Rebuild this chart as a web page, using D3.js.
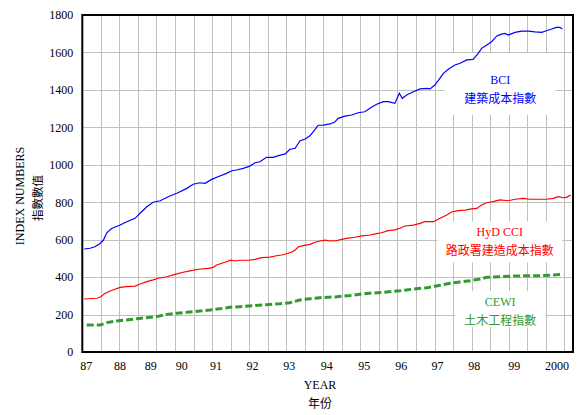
<!DOCTYPE html>
<html><head><meta charset="utf-8">
<script src="https://cdn.jsdelivr.net/npm/d3@7"></script>
<style>
html,body{margin:0;padding:0;background:#fff;}
svg{display:block;}
text{font-family:'Liberation Serif','Times New Roman','Noto Sans CJK TC',serif;}
</style></head>
<body><svg id="chart" width="586" height="415"></svg>
<script>
// ---- data (year, index value) ----
const bciData = [
[1987.05,550],[1987.21,554],[1987.34,562],[1987.48,580],[1987.57,598],[1987.66,637],[1987.79,660],
[1988.02,678],[1988.20,696],[1988.42,714],[1988.60,749],[1988.74,776],[1988.91,800],[1989.10,808],
[1989.36,833],[1989.55,848],[1989.82,874],[1989.99,896],[1990.17,904],[1990.31,901],[1990.49,922],
[1990.71,940],[1990.89,954],[1991.03,968],[1991.16,972],[1991.34,981],[1991.52,993],[1991.66,1011],
[1991.79,1016],[1991.97,1040],[1992.15,1040],[1992.29,1049],[1992.47,1058],[1992.60,1083],[1992.74,1088],
[1992.87,1127],[1993.01,1138],[1993.14,1155],[1993.28,1189],[1993.36,1211],[1993.50,1212],[1993.68,1218],
[1993.81,1228],[1993.90,1248],[1994.08,1260],[1994.27,1266],[1994.44,1278],[1994.62,1283],[1994.80,1307],
[1994.94,1323],[1995.12,1337],[1995.25,1337],[1995.43,1328],[1995.55,1382],[1995.63,1355],[1995.75,1373],
[1995.93,1390],[1996.11,1405],[1996.29,1408],[1996.38,1405],[1996.51,1426],[1996.60,1449],[1996.74,1488],
[1996.87,1510],[1997.05,1533],[1997.19,1542],[1997.37,1560],[1997.54,1563],[1997.68,1595],[1997.77,1622],
[1997.91,1640],[1998.04,1657],[1998.18,1688],[1998.31,1698],[1998.40,1702],[1998.49,1693],[1998.67,1707],
[1998.85,1714],[1999.03,1714],[1999.21,1710],[1999.39,1707],[1999.52,1716],[1999.66,1725],[1999.79,1734],
[1999.88,1734],[1999.95,1725]
];
const hydData = [
[1987.05,283],[1987.39,287],[1987.50,295],[1987.61,313],[1987.75,326],[1987.88,335],[1988.02,345],
[1988.20,349],[1988.42,352],[1988.56,363],[1988.74,376],[1988.91,385],[1989.05,394],[1989.28,402],
[1989.50,415],[1989.72,426],[1989.90,433],[1990.13,442],[1990.40,447],[1990.53,452],[1990.62,465],
[1990.76,474],[1990.89,482],[1991.00,491],[1991.12,486],[1991.25,490],[1991.48,490],[1991.66,495],
[1991.84,504],[1992.06,507],[1992.24,514],[1992.38,518],[1992.51,525],[1992.65,534],[1992.74,545],
[1992.83,562],[1992.96,568],[1993.14,575],[1993.28,586],[1993.41,593],[1993.55,597],[1993.68,593],
[1993.86,595],[1994.00,602],[1994.13,607],[1994.35,613],[1994.54,620],[1994.76,625],[1994.94,632],
[1995.07,637],[1995.25,648],[1995.43,652],[1995.57,661],[1995.70,673],[1995.93,678],[1996.11,687],
[1996.24,696],[1996.47,696],[1996.65,714],[1996.83,732],[1996.96,748],[1997.14,755],[1997.32,758],
[1997.50,764],[1997.64,767],[1997.77,785],[1997.91,797],[1998.08,803],[1998.26,812],[1998.49,808],
[1998.67,816],[1998.89,821],[1999.07,816],[1999.52,816],[1999.70,821],[1999.84,830],[1999.97,824],
[2000.06,826],[2000.17,839]
];
const cewiData = [
[1987.12,144],[1987.48,144],[1987.66,157],[1987.93,166],[1988.20,171],[1988.47,178],[1988.74,183],
[1989.01,189],[1989.28,201],[1989.55,207],[1989.82,212],[1990.17,219],[1990.44,224],[1990.71,231],
[1990.98,239],[1991.25,242],[1991.61,247],[1991.97,253],[1992.33,258],[1992.60,263],[1992.87,278],
[1993.14,285],[1993.41,290],[1993.86,295],[1994.22,302],[1994.67,313],[1995.12,319],[1995.57,327],
[1995.93,336],[1996.29,343],[1996.65,356],[1996.92,367],[1997.19,374],[1997.46,381],[1997.73,390],
[1997.91,399],[1998.26,402],[1998.62,406],[1998.98,407],[1999.34,407],[1999.70,411],[1999.97,415]
];
const xTickLabels = ['87','88','89','90','91','92','93','94','95','96','97','98','99','2000'];
const xTickAt = [1987.09,1988.0,1988.83,1989.67,1990.59,1991.58,1992.57,1993.58,1994.59,1995.59,1996.57,1997.56,1998.64,1999.79];
const yTicks = [0,200,400,600,800,1000,1200,1400,1600,1800];
const seriesNames = ['BCI','HyD CCI','CEWI'];
const seriesNamesZh = ['建築成本指數','路政署建造成本指數','土木工程指數'];
// label anchor (year, value) for each series label
const labelYear = [1998.27, 1998.26, 1998.27];
const labelValue = [1431, 588, 229];

// ---- layout ----
const L = 82.3, R = 573, T = 15, B = 352;
const x = d3.scaleLinear().domain([1987, 2000.235]).range([L, R]);
const y = d3.scaleLinear().domain([0, 1800]).range([B, T]);
const svg = d3.select('#chart');
const colors = ['#0000ff', '#ff0000', '#339933'];
const serif = "'Liberation Serif','Times New Roman',serif";
const cjk = "'Noto Sans CJK TC',sans-serif";

// grid
const gridYears = d3.range(1987.5, 2000.01, 0.5);
svg.append('g').selectAll('line').data(gridYears).join('line')
  .attr('x1', d => Math.round(x(d)) + 0.5).attr('x2', d => Math.round(x(d)) + 0.5)
  .attr('y1', T).attr('y2', B).attr('stroke', '#c0c0c0').attr('stroke-width', 1);
svg.append('g').selectAll('line').data(yTicks.filter(v => v > 0 && v < 1800)).join('line')
  .attr('x1', L).attr('x2', R)
  .attr('y1', d => Math.round(y(d)) + 0.5).attr('y2', d => Math.round(y(d)) + 0.5)
  .attr('stroke', '#c0c0c0').attr('stroke-width', 1);

// label background boxes
const boxW = [111, 125, 90], boxH = [62, 41, 36];
svg.append('g').selectAll('rect').data(seriesNames).join('rect')
  .attr('x', (d, i) => x(labelYear[i]) - boxW[i] / 2)
  .attr('y', (d, i) => y(labelValue[i]) - boxH[i] / 2)
  .attr('width', (d, i) => boxW[i]).attr('height', (d, i) => boxH[i])
  .attr('fill', '#fff');

// lines
const line = d3.line().x(d => x(d[0])).y(d => y(d[1]));
svg.append('path').datum(bciData).attr('d', line).attr('fill', 'none')
  .attr('stroke', colors[0]).attr('stroke-width', 1.2);
svg.append('path').datum(hydData).attr('d', line).attr('fill', 'none')
  .attr('stroke', colors[1]).attr('stroke-width', 1.2);
svg.append('path').datum(cewiData).attr('d', line).attr('fill', 'none')
  .attr('stroke', colors[2]).attr('stroke-width', 3).attr('stroke-dasharray', '7,3');

// frame
svg.append('rect').attr('x', L).attr('y', T).attr('width', R - L).attr('height', B - T)
  .attr('fill', 'none').attr('stroke', '#000').attr('stroke-width', 2);

// y axis labels
const yAxis = d3.axisLeft(y).tickValues(yTicks).tickSize(0).tickPadding(9).tickFormat(d3.format('d'));
const gy = svg.append('g').attr('transform', `translate(${L},0)`).call(yAxis);
gy.attr('font-family', null);
gy.select('.domain').remove();
gy.selectAll('text').attr('font-size', 12).attr('fill', '#000').style('font-family', serif);

// x axis labels
const xLab = d3.scaleOrdinal().domain(xTickAt).range(xTickLabels);
const xAxis = d3.axisBottom(x).tickValues(xTickAt).tickSize(0).tickPadding(9).tickFormat(d => xLab(d));
const gx = svg.append('g').attr('transform', `translate(0,${B})`).call(xAxis);
gx.attr('font-family', null);
gx.select('.domain').remove();
gx.selectAll('text').attr('font-size', 12).attr('fill', '#000').style('font-family', serif);

// axis titles
svg.append('text').attr('x', 320).attr('y', 389).attr('text-anchor', 'middle')
  .attr('font-size', 12).style('font-family', serif).text('YEAR');
svg.append('text').attr('x', 320).attr('y', 407.5).attr('text-anchor', 'middle')
  .attr('font-size', 12).style('font-family', cjk).text('年份');
svg.append('text').attr('transform', 'translate(24,196) rotate(-90)').attr('text-anchor', 'middle')
  .attr('font-size', 12).style('font-family', serif).text('INDEX NUMBERS');
svg.append('text').attr('transform', 'translate(41.5,198) rotate(-90)').attr('text-anchor', 'middle')
  .attr('font-size', 11.5).style('font-family', cjk).text('指數數值');

// series labels
const labOff1 = [-4, -9.5, -7], labOff2 = [14, 8.5, 11];
seriesNames.forEach((n, i) => {
  const cx = x(labelYear[i]), cy = y(labelValue[i]);
  svg.append('text').attr('x', cx).attr('y', cy + labOff1[i] + 4).attr('text-anchor', 'middle')
    .attr('font-size', 12).attr('fill', colors[i]).style('font-family', serif).text(n);
  svg.append('text').attr('x', cx).attr('y', cy + labOff2[i] + 4.5).attr('text-anchor', 'middle')
    .attr('font-size', 12).attr('fill', colors[i]).style('font-family', cjk).text(seriesNamesZh[i]);
});
</script></body></html>
